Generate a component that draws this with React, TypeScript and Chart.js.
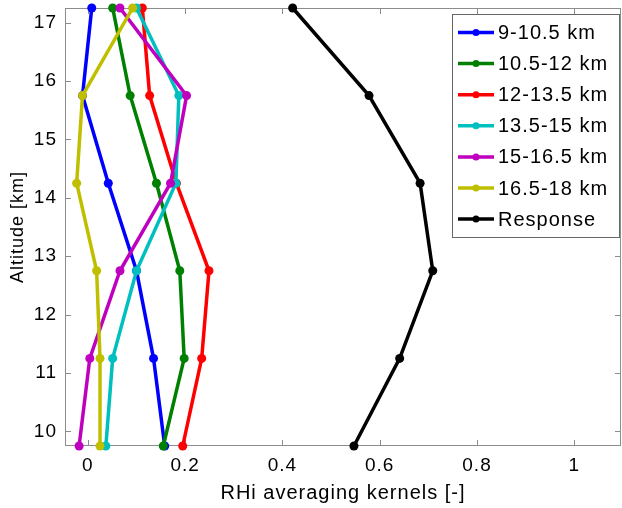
import React, { useEffect, useRef } from 'react';
import { Chart, registerables } from 'chart.js';

Chart.register(...registerables);

const altitudes = [9.75, 11.25, 12.75, 14.25, 15.75, 17.25];

const kernel9to105 = [0.158, 0.135, 0.1, 0.042, -0.011, 0.008];
const kernel105to12 = [0.155, 0.198, 0.189, 0.141, 0.087, 0.051];
const kernel12to135 = [0.195, 0.234, 0.249, 0.182, 0.127, 0.112];
const kernel135to15 = [0.037, 0.051, 0.1, 0.181, 0.187, 0.1];
const kernel15to165 = [-0.018, 0.004, 0.066, 0.17, 0.203, 0.066];
const kernel165to18 = [0.025, 0.025, 0.018, -0.023, -0.011, 0.092];
const response = [0.547, 0.641, 0.709, 0.683, 0.578, 0.421];

const seriesLabels = ['9-10.5 km', '10.5-12 km', '12-13.5 km', '13.5-15 km', '15-16.5 km', '16.5-18 km', 'Response'];
const seriesColors = ['#0000ff', '#008000', '#ff0000', '#00bfbf', '#bf00bf', '#bfbf00', '#000000'];

const xTicks = [0, 0.2, 0.4, 0.6, 0.8, 1];
const yTicks = [10, 11, 12, 13, 14, 15, 16, 17];

const FONT = "'Liberation Sans', Arial, Helvetica, sans-serif";

export default function App() {
  const ref = useRef<HTMLCanvasElement>(null);

  useEffect(() => {
    document.body.style.margin = '0';
    const seriesValues = [kernel9to105, kernel105to12, kernel12to135, kernel135to15, kernel15to165, kernel165to18, response];
    const datasets = seriesValues.map((vals, i) => ({
      label: seriesLabels[i],
      data: vals.map((v, j) => ({ x: v, y: altitudes[j] })),
      borderColor: seriesColors[i],
      backgroundColor: seriesColors[i],
      borderWidth: 3.5,
      pointRadius: 4.5,
      pointBorderWidth: 0,
      pointHoverRadius: 4.5,
      showLine: true,
      clip: false as any,
      order: seriesValues.length - i,
    }));

    const spacing = {
      id: 'spacing',
      beforeUpdate(chart: any) {
        (chart.ctx as any).letterSpacing = '1px';
      },
      beforeDraw(chart: any) {
        (chart.ctx as any).letterSpacing = '1px';
      },
    };

    const frame = {
      id: 'frame',
      beforeDatasetsDraw(chart: any) {
        const { ctx, chartArea } = chart;
        const { left, right, top, bottom } = chartArea;
        const xs = chart.scales.x;
        const ys = chart.scales.y;
        ctx.save();
        ctx.strokeStyle = '#8c8c8c';
        ctx.lineWidth = 1;
        ctx.strokeRect(left + 0.5, top + 0.5, right - left - 1, bottom - top - 1);
        ctx.beginPath();
        xs.ticks.forEach((t: any) => {
          const px = Math.round(xs.getPixelForValue(t.value)) + 0.5;
          ctx.moveTo(px, bottom);
          ctx.lineTo(px, bottom - 6);
          ctx.moveTo(px, top);
          ctx.lineTo(px, top + 6);
        });
        ys.ticks.forEach((t: any) => {
          const py = Math.round(ys.getPixelForValue(t.value)) + 0.5;
          ctx.moveTo(left, py);
          ctx.lineTo(left + 6, py);
          ctx.moveTo(right, py);
          ctx.lineTo(right - 6, py);
        });
        ctx.stroke();
        ctx.restore();
      },
    };

    const legendBox = {
      id: 'legendBox',
      afterDatasetsDraw(chart: any) {
        const { ctx, chartArea } = chart;
        const w = 167;
        const h = 223;
        const bx = chartArea.right - 2 - w;
        const by = chartArea.top + 6;
        ctx.save();
        ctx.fillStyle = '#ffffff';
        ctx.fillRect(bx, by, w, h);
        ctx.strokeStyle = '#666666';
        ctx.lineWidth = 1;
        ctx.strokeRect(bx + 0.5, by + 0.5, w, h);
        ctx.font = `20px ${FONT}`;
        ctx.textBaseline = 'middle';
        ctx.textAlign = 'left';
        chart.data.datasets.forEach((ds: any, i: number) => {
          const cy = by + 18.5 + i * 31.1;
          ctx.strokeStyle = ds.borderColor;
          ctx.lineWidth = 3.5;
          ctx.beginPath();
          ctx.moveTo(bx + 6, cy);
          ctx.lineTo(bx + 42, cy);
          ctx.stroke();
          ctx.fillStyle = ds.borderColor;
          ctx.beginPath();
          ctx.arc(bx + 24, cy, 3.5, 0, Math.PI * 2);
          ctx.fill();
          ctx.fillStyle = '#000000';
          ctx.fillText(ds.label, bx + 46, cy + 1);
        });
        ctx.restore();
      },
    };

    const fmt = (v: any) => String(Math.round(Number(v) * 10) / 10);

    const chart = new Chart(ref.current as HTMLCanvasElement, {
      type: 'scatter',
      data: { datasets: datasets as any },
      options: {
        responsive: false,
        animation: false,
        devicePixelRatio: 1,
        layout: { autoPadding: false, padding: { top: 8, right: 1, left: 0, bottom: 0 } },
        plugins: { legend: { display: false }, tooltip: { enabled: false } },
        events: [],
        scales: {
          x: {
            type: 'linear',
            min: -0.047,
            max: 1.096,
            afterBuildTicks: (s: any) => {
              s.ticks = xTicks.map((v) => ({ value: v }));
            },
            afterFit: (s: any) => {
              s.height = 62;
              s.paddingLeft = 0;
              s.paddingRight = 0;
            },
            grid: { display: false, drawTicks: false },
            border: { display: false },
            ticks: {
              color: '#000',
              font: { family: FONT, size: 19 },
              padding: 8,
              maxRotation: 0,
              autoSkip: false,
              callback: (v: any) => fmt(v),
            },
            title: {
              display: true,
              text: 'RHi averaging kernels [-]',
              color: '#000',
              font: { family: FONT, size: 20 },
              padding: { top: 0, bottom: 3 },
            },
          },
          y: {
            type: 'linear',
            min: 9.75,
            max: 17.25,
            afterBuildTicks: (s: any) => {
              s.ticks = yTicks.map((v) => ({ value: v }));
            },
            afterFit: (s: any) => {
              s.width = 65;
              s.paddingTop = 0;
              s.paddingBottom = 0;
            },
            grid: { display: false, drawTicks: false },
            border: { display: false },
            ticks: {
              color: '#000',
              font: { family: FONT, size: 19 },
              padding: 8,
              autoSkip: false,
              callback: (v: any) => fmt(v),
            },
            title: {
              display: true,
              text: 'Altitude [km]',
              color: '#000',
              font: { family: FONT, size: 18 },
              padding: { top: 7, bottom: 0 },
            },
          },
        },
      },
      plugins: [spacing, frame, legendBox],
    });
    return () => chart.destroy();
  }, []);

  return (
    <div style={{ width: 622, height: 508 }}>
      <canvas ref={ref} width={622} height={508} style={{ display: 'block', width: 622, height: 508 }} />
    </div>
  );
}
